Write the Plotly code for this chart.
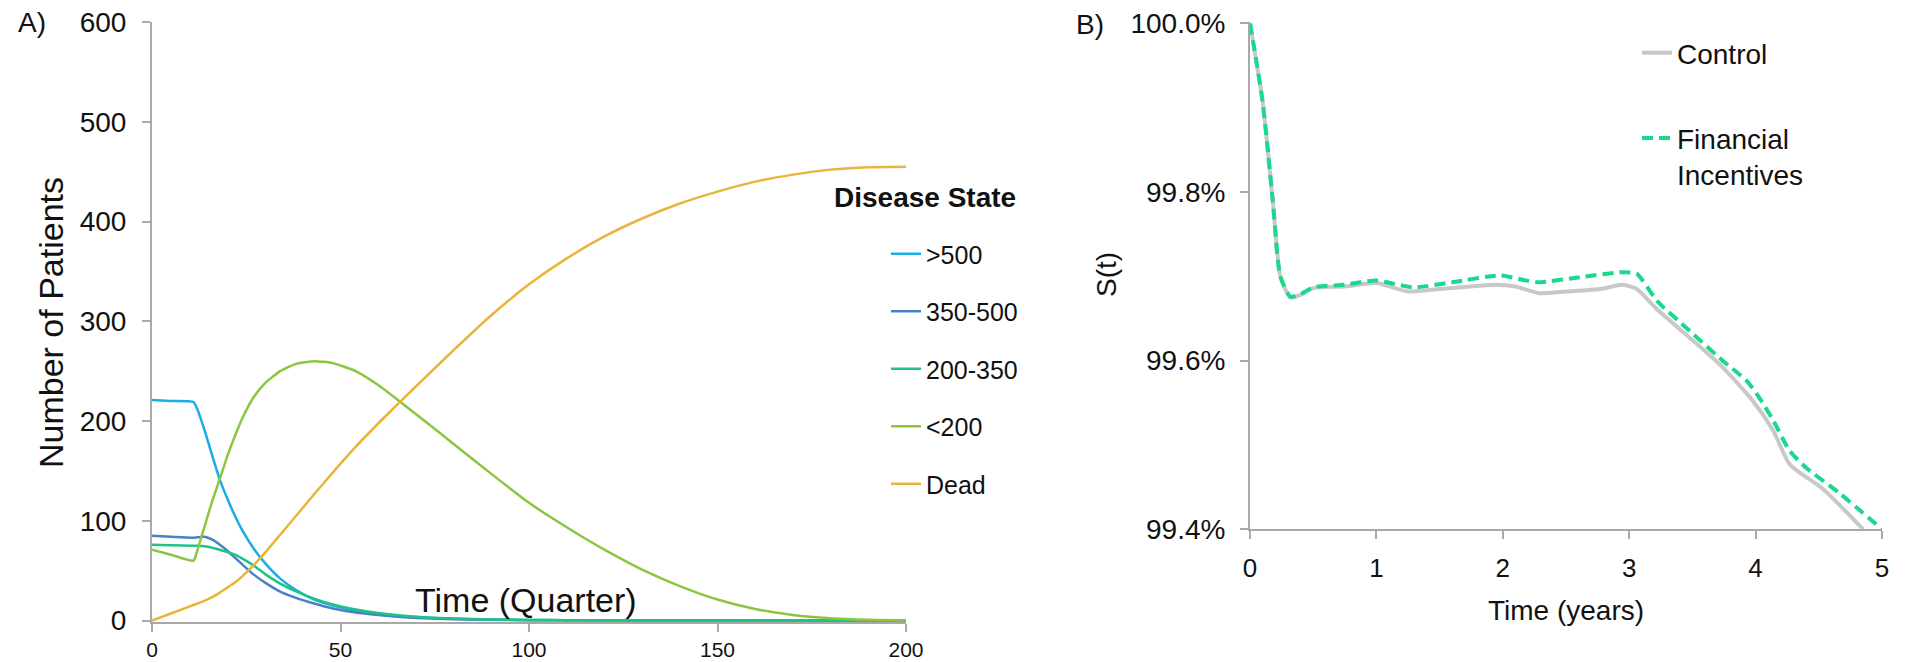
import plotly.graph_objects as go

# ---------------- Panel A: patients by disease state over time ----------------
quarters = [0, 5, 11, 12, 14, 16, 18, 20, 22, 24, 27, 30, 34, 38, 43, 48, 54, 60,
            66, 72, 80, 90, 100, 110, 120, 130, 140, 150, 160, 170, 180, 190, 200]

cd4_over_500 = [221, 220, 219, 212, 190, 165, 141, 122, 105, 90, 72, 57.5, 42, 31, 21, 15,
                10, 6.5, 4.5, 3, 1.8, 1, 0.5, 0.3, 0.2, 0.1, 0.1, 0, 0, 0, 0, 0, 0]
cd4_350_500 = [85, 84, 83, 83.5, 84, 81, 76, 70, 63, 56, 46, 38, 29, 23, 17, 12,
               8, 5.5, 3.5, 2.3, 1.3, 0.7, 0.3, 0.2, 0.1, 0.1, 0, 0, 0, 0, 0, 0, 0]
cd4_200_350 = [76, 75.5, 75, 75, 74.5, 73, 71, 68.5, 66, 62, 55, 46.5, 37, 29.5, 22, 16,
               11, 7.5, 5, 3.3, 2, 1, 0.5, 0.3, 0.2, 0.1, 0.1, 0, 0, 0, 0, 0, 0]
cd4_under_200 = [71, 66, 60, 70, 95, 120, 142, 165, 185, 203, 224, 238, 250, 257, 260, 258,
                 250, 236, 218.7, 201, 177, 147, 118, 93.5, 71, 51, 34.5, 21, 11.5, 5.5,
                 2.2, 0.7, 0.2]
dead = [0, 7, 15.5, 17, 20, 23.5, 28, 33, 38, 44.5, 55.5, 68, 86, 104, 126.5, 148.5,
        174, 197.5, 220, 242, 271, 306, 337, 363, 385, 403, 418, 430, 440, 447, 452,
        454.5, 455]

state_names = [">500", "350-500", "200-350", "<200", "Dead"]
state_colors = ["#1BADE6", "#4A80C8", "#1FC485", "#8CC63F", "#E9B43C"]
state_series = [cd4_over_500, cd4_350_500, cd4_200_350, cd4_under_200, dead]

# ---------------- Panel B: survival curves ----------------
control_years = [0, 0.1, 0.18, 0.24, 0.32, 0.4, 0.5, 0.75, 1.0, 1.25, 1.5, 1.75, 1.95,
                 2.1, 2.29, 2.5, 2.77, 2.95, 3.06, 3.22, 3.48, 3.74, 3.98, 4.14, 4.27,
                 4.54, 4.85]
control_surv = [100, 99.907, 99.79, 99.70, 99.675, 99.678, 99.686, 99.688, 99.692, 99.682,
                99.685, 99.688, 99.690, 99.688, 99.680, 99.682, 99.685, 99.690, 99.685,
                99.661, 99.627, 99.592, 99.552, 99.517, 99.477, 99.447, 99.400]

incentive_years = [0, 0.1, 0.18, 0.24, 0.32, 0.4, 0.5, 0.75, 1.0, 1.29, 1.6, 1.98, 2.27,
                   2.61, 2.95, 3.06, 3.22, 3.48, 3.74, 3.93, 4.03, 4.14, 4.27, 4.40,
                   4.67, 5.0]
incentive_surv = [100, 99.907, 99.79, 99.70, 99.676, 99.679, 99.687, 99.690, 99.695, 99.687,
                  99.693, 99.701, 99.693, 99.699, 99.705, 99.703, 99.671, 99.635, 99.600,
                  99.576, 99.556, 99.529, 99.493, 99.473, 99.442, 99.400]

surv_ticks = [99.4, 99.6, 99.8, 100.0]
surv_tick_text = ["99.4%", "99.6%", "99.8%", "100.0%"]
quarter_ticks = [0, 50, 100, 150, 200]
patient_ticks = [0, 100, 200, 300, 400, 500, 600]
year_ticks = [0, 1, 2, 3, 4, 5]

W, H = 1915, 662
FONT = "Liberation Sans, Arial, sans-serif"
INK = "#111111"
AXIS_GREY = "#A9A9A9"


def px_x(p):
    return p / W


def px_y(p):
    return 1 - p / H


fig = go.Figure()

for name, color, vals in zip(state_names, state_colors, state_series):
    fig.add_trace(go.Scatter(
        x=quarters, y=vals, name=name, mode="lines",
        line=dict(color=color, width=2.5, shape="spline", smoothing=0.5),
        xaxis="x", yaxis="y", legend="legend", legendgroup=name,
    ))

fig.add_trace(go.Scatter(
    x=control_years, y=control_surv, name="Control", mode="lines",
    line=dict(color="#C8C8C8", width=4, shape="spline", smoothing=0.6),
    xaxis="x2", yaxis="y2", legend="legend2", legendgroup="Control",
))
fig.add_trace(go.Scatter(
    x=incentive_years, y=incentive_surv, name="Financial<br>Incentives", mode="lines",
    line=dict(color="#19D98B", width=4, dash="11px,6px", shape="spline", smoothing=0.6),
    xaxis="x2", yaxis="y2", legend="legend2", legendgroup="Financial",
))


def axis_style(font_size, standoff):
    return dict(
        showgrid=False, zeroline=False, showline=True, linecolor=AXIS_GREY, linewidth=2,
        ticks="outside", ticklen=8, tickwidth=2, tickcolor=AXIS_GREY,
        tickfont=dict(family=FONT, size=font_size, color=INK), layer="below traces",
        automargin=False, ticklabelstandoff=standoff,
    )


fig.update_layout(
    template="none",
    width=W, height=H, autosize=False,
    margin=dict(l=0, r=0, t=0, b=0, pad=0),
    paper_bgcolor="white", plot_bgcolor="white",
    font=dict(family=FONT, color=INK),
    xaxis=dict(domain=[px_x(152), px_x(906)], range=[0, 200], tickmode="array",
               tickvals=quarter_ticks, anchor="y", **axis_style(21, 0)),
    yaxis=dict(domain=[px_y(622), px_y(22)], range=[-1.5, 600], tickmode="array",
               tickvals=patient_ticks, anchor="x", **axis_style(28, 10)),
    xaxis2=dict(domain=[px_x(1250), px_x(1882)], range=[0, 5], tickmode="array",
                tickvals=year_ticks, anchor="y2", **axis_style(26, 6)),
    yaxis2=dict(domain=[px_y(529.3), px_y(21.7)], range=[99.4, 100.002], tickmode="array",
                tickvals=surv_ticks, ticktext=surv_tick_text, anchor="x2",
                **axis_style(28, 9)),
    legend=dict(x=px_x(886), y=px_y(231), xanchor="left", yanchor="top",
                bgcolor="rgba(0,0,0,0)", borderwidth=0, tracegroupgap=22,
                font=dict(family=FONT, size=25, color=INK)),
    legend2=dict(x=px_x(1637), y=px_y(28), xanchor="left", yanchor="top",
                 bgcolor="rgba(0,0,0,0)", borderwidth=0, tracegroupgap=46, valign="top",
                 font=dict(family=FONT, size=28, color=INK)),
    showlegend=True,
)

annotations = [
    ("A)", 32, 23, 28, 0, "center"),
    ("B)", 1090, 25, 28, 0, "center"),
    ("Number of Patients", 51, 323, 34, -90, "center"),
    ("Time (Quarter)", 526, 600, 34, 0, "center"),
    ("S(t)", 1106, 275, 28, -90, "center"),
    ("Time (years)", 1566, 610, 28, 0, "center"),
    ("<b>Disease State</b>", 832, 197, 28, 0, "left"),
]
for text, x, y, size, angle, anchor in annotations:
    fig.add_annotation(
        text=text, x=px_x(x), y=px_y(y), xref="paper", yref="paper",
        xanchor=anchor, yanchor="middle", showarrow=False, textangle=angle,
        font=dict(family=FONT, size=size, color=INK),
    )

fig.write_html("out.html")
